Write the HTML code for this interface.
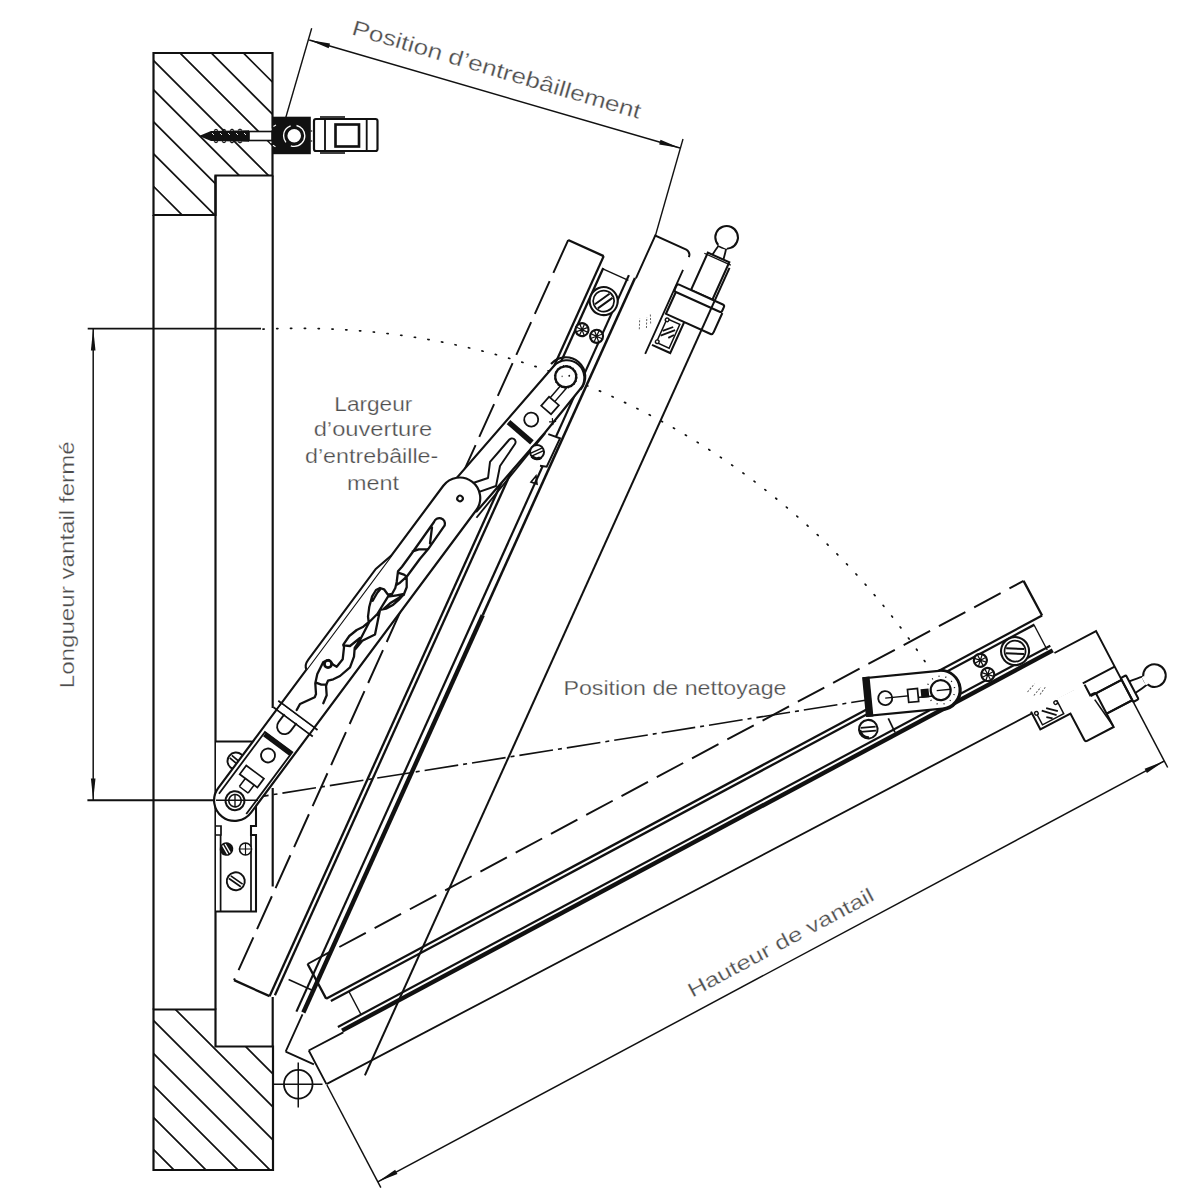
<!DOCTYPE html>
<html><head><meta charset="utf-8"><style>html,body{margin:0;padding:0;background:#fff;}svg{display:block;} text{stroke:#fff;stroke-width:0.25px;font-family:'Liberation Sans',sans-serif;}</style></head>
<body><svg width="1200" height="1200" viewBox="0 0 1200 1200">
<rect width="1200" height="1200" fill="#fff"/>
<defs><clipPath id="cb1"><path d="M153.5,53 H272.5 V175.5 H215.5 V215 H153.5 Z"/></clipPath><clipPath id="cb2"><path d="M153.5,1009.5 H215.5 V1046.5 H273 V1170 H153.5 Z"/></clipPath></defs>
<path d="M90.4,-100 L590.4,400 M58.30000000000001,-100 L558.3,400 M27,-100 L527,400 M-7,-100 L493,400 M-36.3,-100 L463.7,400 M-68.3,-100 L431.7,400 M-100.3,-100 L399.7,400 M-132.9,-100 L367.1,400" stroke="#111" stroke-width="1.72" clip-path="url(#cb1)"/>
<path d="M245.70000000000005,1046.7 L499,1300 M66,900 L466,1300 M33,900 L433,1300 M0,900 L400,1300 M-32,900 L368,1300 M-64,900 L336,1300 M-96,900 L304,1300" stroke="#111" stroke-width="1.72" clip-path="url(#cb2)"/>
<path d="M153.5,53 H272.5 V175.5 H215.5 V215 H153.5 Z" fill="none" stroke="#111" stroke-width="2.18" />
<path d="M153.5,1009.5 H215.5 V1046.5 H273 V1170 H153.5 Z" fill="none" stroke="#111" stroke-width="2.18" />
<line x1="153.50" y1="215.00" x2="153.50" y2="1009.50" stroke="#111" stroke-width="2.18" />
<line x1="215.50" y1="175.50" x2="215.50" y2="1009.50" stroke="#111" stroke-width="2.18" />
<line x1="272.70" y1="175.50" x2="272.70" y2="708.00" stroke="#111" stroke-width="2.18" />
<line x1="272.70" y1="788.00" x2="272.70" y2="886.50" stroke="#111" stroke-width="2.18" />
<line x1="272.70" y1="997.00" x2="272.70" y2="1046.50" stroke="#111" stroke-width="2.18" />
<rect x="272.5" y="116.7" width="38.3" height="37.5" fill="#111"/>
<circle cx="294.2" cy="135.8" r="10.6" fill="none" stroke="#fff" stroke-width="1.38" stroke-dasharray="20 6"/>
<circle cx="294.2" cy="135.8" r="7.6" fill="#fff" stroke="#111" stroke-width="1.61"/>
<path d="M276,125 a12,12 0 0 0 0,22" fill="none" stroke="#fff" stroke-width="1.15" stroke-dasharray="3 3"/>
<rect x="314" y="119" width="63.5" height="32" rx="2" fill="#fff" stroke="#111" stroke-width="2.18"/>
<line x1="325.00" y1="119.00" x2="325.00" y2="151.00" stroke="#111" stroke-width="1.84" />
<line x1="366.70" y1="119.00" x2="366.70" y2="151.00" stroke="#111" stroke-width="1.84" />
<rect x="335.5" y="124.5" width="23.5" height="22" fill="none" stroke="#111" stroke-width="2.64"/>
<line x1="320.00" y1="117.00" x2="345.00" y2="117.00" stroke="#111" stroke-width="1.61" />
<line x1="320.00" y1="153.00" x2="345.00" y2="153.00" stroke="#111" stroke-width="1.61" />
<line x1="310.80" y1="131.00" x2="314.00" y2="131.00" stroke="#111" stroke-width="1.38" stroke-dasharray="1 1"/>
<line x1="310.80" y1="141.00" x2="314.00" y2="141.00" stroke="#111" stroke-width="1.38" stroke-dasharray="1 1"/>
<path d="M199,136 L211,131 L249,130.2 L249,141.8 L211,141 Z" fill="#111"/>
<path d="M214,130.6 l2,-1.2 l2,1.2 M222,130.5 l2,-1.2 l2,1.2 M230,130.4 l2,-1.2 l2,1.2 M238,130.3 l2,-1.2 l2,1.2 M214,141.4 l2,1.2 l2,-1.2 M222,141.5 l2,1.2 l2,-1.2 M230,141.6 l2,1.2 l2,-1.2 M238,141.7 l2,1.2 l2,-1.2" fill="none" stroke="#111" stroke-width="1.15"/>
<path d="M212,133 l2,2 M220,133 l2,2 M228,133 l2,2 M236,133 l2,2 M244,133 l2,2" stroke="#fff" stroke-width="0.92"/>
<rect x="249" y="131.5" width="23" height="9" fill="#fff" stroke="#111" stroke-width="1.61"/>
<line x1="285.80" y1="117.50" x2="311.70" y2="28.30" stroke="#111" stroke-width="1.38" />
<line x1="683.00" y1="139.00" x2="655.30" y2="236.00" stroke="#111" stroke-width="1.38" />
<line x1="309.20" y1="40.00" x2="680.00" y2="148.00" stroke="#111" stroke-width="1.49" />
<path d="M309.20,40.00 L328.69,48.18 L330.03,43.57 Z" fill="#111"/>
<path d="M680.00,148.00 L660.51,139.82 L659.17,144.43 Z" fill="#111"/>
<text x="0" y="0" transform="translate(350.7,34.3) rotate(16.37)" font-family="Liberation Sans, sans-serif" font-size="21.5" fill="#4d4d4d" textLength="300" lengthAdjust="spacingAndGlyphs">Position d’entrebâillement</text>
<line x1="87.70" y1="328.60" x2="261.00" y2="328.60" stroke="#111" stroke-width="1.95" />
<line x1="87.40" y1="800.30" x2="235.00" y2="800.30" stroke="#111" stroke-width="1.95" />
<line x1="93.20" y1="328.60" x2="93.20" y2="800.30" stroke="#111" stroke-width="1.49" />
<path d="M93.20,328.60 L90.90,350.50 L95.50,350.50 Z" fill="#111"/>
<path d="M93.20,800.30 L95.50,778.50 L90.90,778.50 Z" fill="#111"/>
<text x="0" y="0" transform="translate(73.6,688.3) rotate(-90)" font-family="Liberation Sans, sans-serif" font-size="20" fill="#4d4d4d" textLength="247" lengthAdjust="spacingAndGlyphs">Longueur vantail fermé</text>
<path d="M263.0,329.1 A756,756 0 0 1 925.8,662.8" fill="none" stroke="#111" stroke-width="1.72" stroke-dasharray="1.2 12.6" stroke-linecap="round"/>
<g transform="translate(305.25,1083.6) rotate(-65.7)"><g><path d="M65,-107.5 V-68.5 M877,-107.5 V-68.5" stroke="#111" stroke-width="2.30" fill="none"/><path d="M877,-107.5 H65" stroke="#111" stroke-width="1.95" stroke-dasharray="36 9" stroke-dashoffset="0" fill="none"/><path d="M65,-68.5 H877" stroke="#111" stroke-width="2.30" fill="none"/><path d="M68,-64 H866" stroke="#111" stroke-width="2.30" fill="none"/><path d="M62,-37.7 H870" stroke="#111" stroke-width="2.18" fill="none"/><path d="M64,-31 H500" stroke="#111" stroke-width="4.37" fill="none"/><path d="M500,-31 H870" stroke="#111" stroke-width="2.53" fill="none"/></g><path d="M21,-31 H62 M21,-31 V0 M805,9.5 H897" stroke="#111" stroke-width="1.84" fill="none"/><path d="M870,-30 H917 V4 Q916,9.5 911,9.5" stroke="#111" stroke-width="1.95" fill="none"/><path d="M88,-58 V-32" stroke="#111" stroke-width="1.49" fill="none"/><path d="M865,-64 V-36" stroke="#111" stroke-width="1.38" fill="none"/><circle cx="836" cy="-50" r="14" fill="#fff" stroke="#111" stroke-width="2.07"/><circle cx="836" cy="-50" r="10.5" fill="none" stroke="#111" stroke-width="1.72"/><path d="M827,-52.5 H845 M827,-47.5 H845" stroke="#111" stroke-width="1.95" transform="rotate(30 836 -50)"/><circle cx="801" cy="-58" r="6.5" fill="#fff" stroke="#111" stroke-width="2.18"/><path d="M795,-58 h12 M801,-64 v12 M796.5,-62.5 l9,9 M796.5,-53.5 l9,-9" stroke="#111" stroke-width="1.26"/><circle cx="801" cy="-42" r="6.5" fill="#fff" stroke="#111" stroke-width="2.18"/><path d="M795,-42 h12 M801,-48 v12 M796.5,-46.5 l9,9 M796.5,-37.5 l9,-9" stroke="#111" stroke-width="1.26"/><path d="M923,30 Q930,31 934,32 M923,42 Q930,41 934,40" fill="none" stroke="#111" stroke-width="1.84"/><circle cx="944.7" cy="35.8" r="11.3" fill="#fff" stroke="#111" stroke-width="2.07"/><rect x="934" y="31.5" width="3" height="9" fill="#fff"/><rect x="882" y="25" width="41" height="23.5" fill="#fff" stroke="#111" stroke-width="2.07"/><path d="M921,22 L921,51" stroke="#111" stroke-width="1.26"/><rect x="874" y="10" width="8" height="52" rx="2" fill="#fff" stroke="#111" stroke-width="2.07"/><path d="M874,12 H850 V61 Q850,63 853,63 H874 M850,32 H816 V12" fill="none" stroke="#111" stroke-width="2.07"/><path d="M846,15 V29 H820 V15 Z" fill="none" stroke="#111" stroke-width="1.49"/><path d="M828,16 L839,27 M833,16 L841,24 M829,24 l5,4" stroke="#111" stroke-width="1.84"/><path d="M829,0 L839,-4 M825,-6 L835,-10 M835,2 L843,-2" stroke="#555" stroke-width="0.92" stroke-dasharray="2 1.5"/><circle cx="845" cy="15.5" r="1.8" fill="#fff" stroke="#111" stroke-width="1.38"/><circle cx="821" cy="15.5" r="1.8" fill="#fff" stroke="#111" stroke-width="1.38"/></g>
<g transform="translate(298.25,1084.25) rotate(-27.72)"><g transform="translate(490,0) rotate(-0.43) translate(-490,0)"><path d="M65,-105.3 V-66 M877,-105.3 V-66" stroke="#111" stroke-width="2.30" fill="none"/><path d="M877,-105.3 H65" stroke="#111" stroke-width="1.95" stroke-dasharray="30 10" stroke-dashoffset="14" fill="none"/><path d="M65,-66 H877" stroke="#111" stroke-width="2.30" fill="none"/><path d="M68,-61.6 H866" stroke="#111" stroke-width="2.30" fill="none"/><path d="M62,-35.5 H870" stroke="#111" stroke-width="2.18" fill="none"/><path d="M64,-30.3 H870" stroke="#111" stroke-width="4.37" fill="none"/></g><path d="M25,-25 H64 M25,-25 V13 M25,13 L870,13" stroke="#111" stroke-width="1.84" fill="none"/><path d="M870,-30 H917 V25" stroke="#111" stroke-width="1.95" fill="none"/><path d="M88,-58 V-32" stroke="#111" stroke-width="1.49" fill="none"/><path d="M865,-64 V-36" stroke="#111" stroke-width="1.38" fill="none"/><circle cx="836" cy="-50" r="14" fill="#fff" stroke="#111" stroke-width="2.07"/><circle cx="836" cy="-50" r="10.5" fill="none" stroke="#111" stroke-width="1.72"/><path d="M827,-52.5 H845 M827,-47.5 H845" stroke="#111" stroke-width="1.95" transform="rotate(30 836 -50)"/><circle cx="801" cy="-58" r="6.5" fill="#fff" stroke="#111" stroke-width="2.18"/><path d="M795,-58 h12 M801,-64 v12 M796.5,-62.5 l9,9 M796.5,-53.5 l9,-9" stroke="#111" stroke-width="1.26"/><circle cx="801" cy="-42" r="6.5" fill="#fff" stroke="#111" stroke-width="2.18"/><path d="M795,-42 h12 M801,-48 v12 M796.5,-46.5 l9,9 M796.5,-37.5 l9,-9" stroke="#111" stroke-width="1.26"/><path d="M923,30 Q932,31 937,32 M923,43 Q932,42 937,41" fill="none" stroke="#111" stroke-width="1.84"/><circle cx="948" cy="36.5" r="11.3" fill="#fff" stroke="#111" stroke-width="2.07"/><rect x="936" y="32" width="3" height="9" fill="#fff"/><rect x="917" y="23" width="6" height="27" rx="1" fill="#fff" stroke="#111" stroke-width="2.07"/><path d="M882,25 H917 M888,48 H917" fill="none" stroke="#111" stroke-width="2.07"/><path d="M822,11 V31 H856 V61 Q856,63 858,63 H888 V26 Q888,24 886,24 H882 V12" fill="#fff" stroke="#111" stroke-width="2.07"/><path d="M882,25 H917 V48 H888 M881,10 H917" fill="none" stroke="#111" stroke-width="2.07"/><path d="M884,30 L888,62" stroke="#111" stroke-width="1.61"/><path d="M850,13 V28 H826 V13" fill="none" stroke="#111" stroke-width="1.49"/><path d="M832,15 L843,26 M837,15 L846,23 M833,23 l5,4" stroke="#111" stroke-width="1.84"/><path d="M832,-2 L842,-6 M828,-8 L838,-12 M838,0 L846,-4" stroke="#555" stroke-width="0.92" stroke-dasharray="2 1.5"/><circle cx="848" cy="14.5" r="1.8" fill="#fff" stroke="#111" stroke-width="1.38"/><circle cx="826" cy="15" r="1.8" fill="#fff" stroke="#111" stroke-width="1.38"/></g>
<line x1="364.90" y1="1075.42" x2="729.50" y2="267.92" stroke="#111" stroke-width="2.01" />
<line x1="326.89" y1="1085.01" x2="380.85" y2="1187.70" stroke="#111" stroke-width="1.49" />
<line x1="1132.33" y1="700.20" x2="1167.69" y2="767.48" stroke="#111" stroke-width="1.49" />
<line x1="377.78" y1="1181.86" x2="1164.29" y2="761.01" stroke="#111" stroke-width="1.49" />
<path d="M377.78,1181.86 L397.43,1174.06 L395.16,1169.83 Z" fill="#111"/>
<path d="M1164.29,761.01 L1144.64,768.81 L1146.91,773.04 Z" fill="#111"/>
<text x="0" y="0" transform="translate(692.2,997.7) rotate(-28.15)" font-family="Liberation Sans, sans-serif" font-size="20" fill="#4d4d4d" textLength="208" lengthAdjust="spacingAndGlyphs">Hauteur de vantail</text>
<circle cx="298.25" cy="1084.25" r="14.3" fill="none" stroke="#111" stroke-width="1.84"/>
<line x1="298.25" y1="1062.50" x2="298.25" y2="1107.50" stroke="#111" stroke-width="1.49" />
<line x1="273.00" y1="1084.25" x2="322.50" y2="1084.25" stroke="#111" stroke-width="1.38" />
<path d="M235,800.7 L867,700" fill="none" stroke="#111" stroke-width="1.61" stroke-dasharray="34 5 4 5"/>
<path d="M216,741.5 H251 Q256,741.5 256,746 V826 H251 V835 H256 V911.5 H216" fill="#fff" stroke="#111" stroke-width="2.07"/>
<line x1="251.00" y1="836.00" x2="251.00" y2="911.50" stroke="#111" stroke-width="1.72" />
<path d="M216,826 H221 V835 H216 M220.6,835 V911.5" fill="none" stroke="#111" stroke-width="1.72"/>
<g transform="translate(235.8,881.3) rotate(35)"><circle r="9" fill="#fff" stroke="#111" stroke-width="1.95"/><path d="M-7.2,-1.6 H7.2 M-7.2,1.6 H7.2" stroke="#111" stroke-width="1.72"/></g>
<g transform="translate(226.5,849) rotate(60)"><circle r="6.8" fill="#111"/><path d="M-5,-1.3 H5 M-5,1.6 H5" stroke="#fff" stroke-width="1.38"/></g>
<circle cx="245.5" cy="849" r="6" fill="#fff" stroke="#111" stroke-width="1.61"/><path d="M239.5,849 h12 M245.5,843 v12" stroke="#111" stroke-width="1.15"/>
<g transform="translate(236,761) rotate(40)"><circle r="8.5" fill="#fff" stroke="#111" stroke-width="1.95"/><path d="M-6.8,-1.6 H6.8 M-6.8,1.6 H6.8" stroke="#111" stroke-width="1.72"/></g>
<g transform="translate(565.75,376.75) rotate(130.97)"><path d="M0,16 H160 V-21 H56 L0,-19 A17.5,17.5 0 0 0 0,16 Z" fill="#fff" stroke="#111" stroke-width="2.18"/><path d="M0,-19.5 A19.5,19.5 0 0 0 0,19.5" fill="none" stroke="#111" stroke-width="2.18"/><rect x="69" y="-17.5" width="5.5" height="31" fill="#111"/><circle cx="55" cy="-2" r="7" fill="#fff" stroke="#111" stroke-width="1.84"/><path d="M8,-8 H27 M8,-2 H27" stroke="#111" stroke-width="1.49"/><rect x="26" y="-13.5" width="12" height="13" fill="#fff" stroke="#111" stroke-width="1.72"/><circle cx="0" cy="0" r="10.5" fill="#fff" stroke="#111" stroke-width="2.30"/><circle cx="0" cy="0" r="11.3" fill="none" stroke="#111" stroke-width="1.15" stroke-dasharray="1 2.5"/><circle cx="-3" cy="-2" r="0.9" fill="#111"/><circle cx="2" cy="3" r="0.8" fill="#666"/><path d="M40,-17 l5,-5 M40,-22 l5,5" stroke="#111" stroke-width="1.26"/><path d="M146,1 L141,0.4 L127.4,-7.7 L114,1.3 L85,1.4 A3.6,3.6 0 0 1 84.1,-5.8 L110.5,-8.9 L128.2,-19 L145,-9.3" fill="none" stroke="#111" stroke-width="1.95" stroke-linejoin="round"/><path d="M56,-21.5 L165,-25" fill="none" stroke="#111" stroke-width="1.84"/></g>
<g transform="translate(940.7,690.2) rotate(174.4)"><path d="M0,19.5 H75 V-18.5 H0 A19,19 0 0 0 0,19.5 Z" fill="#fff" stroke="#111" stroke-width="2.18"/><path d="M0,-20 A20,20 0 0 0 0,20" fill="none" stroke="#111" stroke-width="2.18"/><rect x="69.5" y="-19.5" width="7.5" height="40" fill="#111"/><path d="M54.9,-22.9 L49.6,-37.6" stroke="#111" stroke-width="1.72"/><circle cx="56" cy="-2.5" r="7" fill="#fff" stroke="#111" stroke-width="1.84"/><path d="M8,-5 H24 M56,-2.5 H24" stroke="#111" stroke-width="1.38"/><rect x="23" y="-9" width="10" height="13" fill="#fff" stroke="#111" stroke-width="1.72"/><rect x="12" y="-6" width="8" height="9" fill="#111"/><circle cx="0" cy="0" r="10" fill="#fff" stroke="#111" stroke-width="2.18"/><circle cx="0" cy="0" r="14" fill="none" stroke="#111" stroke-width="1.38" stroke-dasharray="1 6"/><path d="M-10,0 H4" stroke="#111" stroke-width="1.38"/></g>
<g transform="translate(235.0,800.7) rotate(-53.33)"><path d="M0,-21 H377 A20,20 0 0 1 377,20 H0 A20.5,20.5 0 0 1 0,-21 Z" fill="#fff" stroke="#111" stroke-width="2.18"/><path d="M148,-21 Q150,-25.5 157,-25.5 H270 L290,-21" fill="#fff" stroke="#111" stroke-width="2.07"/><path d="M98,-25 V24 M106,-25 V24" stroke="#111" stroke-width="1.84"/><rect x="98.8" y="-20" width="6.4" height="39" fill="#fff"/><path d="M99,-12 H89 A7,7 0 0 0 89,3 H99" fill="none" stroke="#111" stroke-width="1.84"/><path d="M-4,-17 H73 V17 H-4" fill="#fff" stroke="#111" stroke-width="1.84"/><rect x="68.5" y="-16" width="5" height="33" fill="#111"/><circle cx="56" cy="-0.5" r="7" fill="#fff" stroke="#111" stroke-width="1.84"/><rect x="24" y="-12" width="11" height="22" fill="#fff" stroke="#111" stroke-width="1.72" transform="rotate(0)"/><path d="M14,-5 H24 M14,6 H24 M14,-5 V6" fill="none" stroke="#111" stroke-width="1.49"/><circle cx="0" cy="0" r="9.5" fill="#fff" stroke="#111" stroke-width="2.07"/><circle cx="0" cy="0" r="6.2" fill="none" stroke="#111" stroke-width="1.61"/><circle cx="376.8" cy="0" r="2.8" fill="none" stroke="#111" stroke-width="2.07"/></g>
<line x1="216.00" y1="800.30" x2="258.00" y2="800.30" stroke="#111" stroke-width="1.61" />
<line x1="235.00" y1="794.00" x2="235.00" y2="807.00" stroke="#111" stroke-width="1.38" />
<path d="M296.7,710 L300,704 L314.7,697.3 L316,694 L315.3,683.3 L317.3,674 L323.3,662 L328.7,660 L333.3,664.7 L336.7,666.7 L342.7,659.3 L344,647.3 L343.3,644.7 L349.3,636 L356.7,630 L363.3,626.7 L368.7,622 L368,616.7 L369.3,606.7 L372,596.7 L376,590 L380,588 L384,589.3 L388,594.7 L392,594 L395.3,588 L396.7,582 L398,571.3 L402,566.7 L413.3,551.3 L434,522 A5,5 0 0 1 444.7,525.3 M323.3,703.3 L326.7,695.3 L326,685.3 L328,680.7 L333.3,679.3 L340,676 L350,667.3 L354,656.7 L354.7,648 L360,640 L369.3,622 L377.3,614 L388,596.7 L396.7,595.3 L404,594 L406.7,587.3 L406.7,576.7 L420,558.7 L428,549.3 L444.7,525.3 M404,594 L398.7,600 L393.3,604.7 L386,608.7 L380,610 L375,634.5 L362.3,640.8 L354.4,650.3 M316,682.7 L321.3,684.7 L326.7,684.7 M343.3,645.3 L350,646 L360,638 M398,572.7 L404,574.7 L406.7,576.7 M396.7,584.7 L400,582.7 L406.7,576.7 M380.7,588.7 L377.3,592.7 L372.7,600.7 M384,608.7 L390,603.3 L404,594.7 M432,527.3 L430,543.3 M412.7,551.3 L418.7,549.3 L427.3,549.3" fill="none" stroke="#111" stroke-width="2.30" stroke-linejoin="round" stroke-linecap="round"/>
<circle cx="328" cy="664" r="3.6" fill="#fff" stroke="#111" stroke-width="2.76"/>
<path d="M548.3,434.2 L560,438.3 L546.7,466.7 L540,465.8" fill="#fff" stroke="#111" stroke-width="1.95"/>
<path d="M531,482 L536,476 L537,484 Z" fill="none" stroke="#111" stroke-width="1.61"/>
<g transform="translate(537,452) rotate(-25)"><circle r="7" fill="#fff" stroke="#111" stroke-width="1.95"/><path d="M-6,-1.5 H6 M-6,1.5 H6" stroke="#111" stroke-width="1.49"/><path d="M-8,2 A8,8 0 0 0 2,8 L0,5 A5,5 0 0 1 -5,1 Z" fill="#111"/></g>
<g transform="translate(868.3,729.2) rotate(-5)"><circle r="9.3" fill="#fff" stroke="#111" stroke-width="2.07"/><path d="M-7.5,-2 H7.5 M-7.5,2 H7.5" stroke="#111" stroke-width="1.72"/><path d="M-9.5,0 A9.5,9.5 0 0 0 0,9.5 L0,7 A7,7 0 0 1 -7,0 Z" fill="#111"/></g>
<text x="334.3" y="410.9" font-family="Liberation Sans, sans-serif" font-size="19.5" fill="#4d4d4d" textLength="78" lengthAdjust="spacingAndGlyphs">Largeur</text>
<text x="313.7" y="436.3" font-family="Liberation Sans, sans-serif" font-size="19.5" fill="#4d4d4d" textLength="118.6" lengthAdjust="spacingAndGlyphs">d’ouverture</text>
<text x="305" y="462.9" font-family="Liberation Sans, sans-serif" font-size="19.5" fill="#4d4d4d" textLength="133.3" lengthAdjust="spacingAndGlyphs">d’entrebâille-</text>
<text x="347" y="489.6" font-family="Liberation Sans, sans-serif" font-size="19.5" fill="#4d4d4d" textLength="52" lengthAdjust="spacingAndGlyphs">ment</text>
<text x="563.5" y="695.4" font-family="Liberation Sans, sans-serif" font-size="20.8" fill="#4d4d4d" textLength="223" lengthAdjust="spacingAndGlyphs">Position de nettoyage</text>
</svg></body></html>
